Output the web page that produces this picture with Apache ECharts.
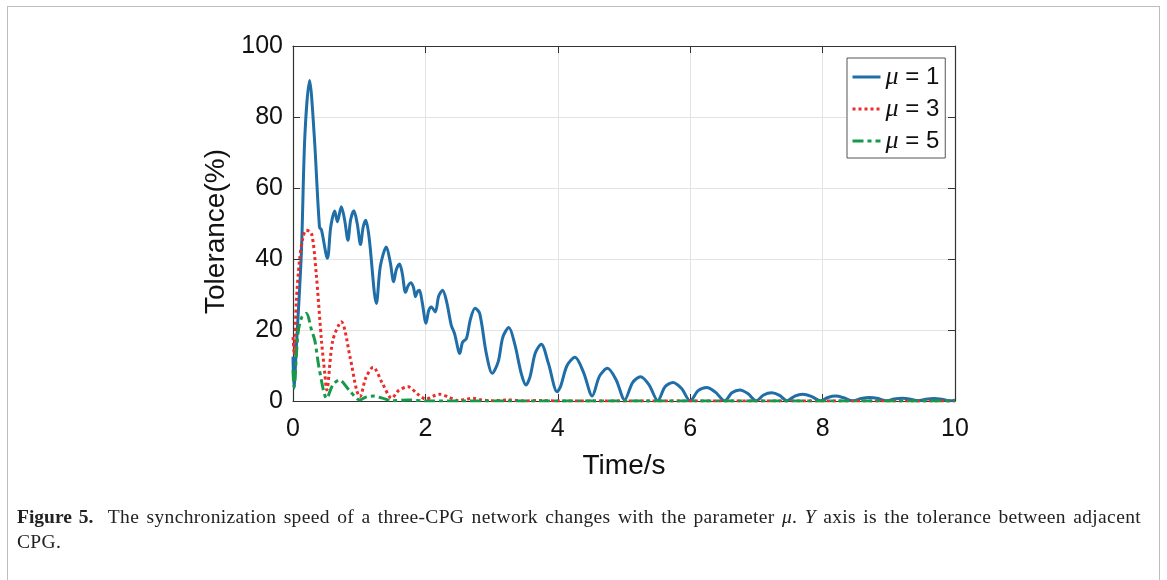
<!DOCTYPE html>
<html>
<head>
<meta charset="utf-8">
<script src="https://cdn.jsdelivr.net/npm/echarts@6/dist/echarts.min.js"></script>
<style>
html,body{margin:0;padding:0;background:#fff;}
#frame{position:absolute;left:7px;top:6px;width:1153px;height:600px;border:1.5px solid #bdbdbd;border-bottom:none;box-sizing:border-box;}
#chart{position:absolute;left:0;top:0;width:1167px;height:580px;}
#caption{position:absolute;left:17px;top:504px;width:1124px;font-family:"Liberation Serif","Times New Roman",serif;font-size:19.5px;line-height:25px;color:#222;letter-spacing:0.35px;}
#caption .l1{display:block;text-align:justify;text-align-last:justify;}
#caption b{font-weight:bold;letter-spacing:0;}
</style>
</head>
<body>
<div id="frame"></div>
<div id="chart"></div>
<div id="caption"><span class="l1"><b>Figure 5.</b>&nbsp; The synchronization speed of a three-CPG network changes with the parameter <i>μ</i>. <i>Y</i> axis is the tolerance between adjacent</span>CPG.</div>
<script>
// ---- data ----
const xTicks = [0, 2, 4, 6, 8, 10];
const yTicks = [0, 20, 40, 60, 80, 100];
const seriesNames = ['μ = 1', 'μ = 3', 'μ = 5'];
const mu1 = [
 [0,12.5],[0.015,3.6],[0.05,15],[0.126,41.6],[0.18,75],[0.25,90.3],[0.32,75],[0.40,49],[0.43,48.2],
 [0.52,40.2],[0.57,49],[0.63,53.5],[0.67,50.5],[0.73,54.7],[0.78,51],[0.83,45.3],[0.87,51],[0.92,53.6],
 [0.97,50],[1.02,44.1],[1.06,49],[1.10,50.9],[1.15,46],[1.26,27.5],[1.32,38],[1.41,43.4],[1.47,39],
 [1.52,33.6],[1.56,37],[1.61,38.6],[1.65,36],[1.70,30.6],[1.74,32.5],[1.78,33.3],[1.82,32],[1.85,29.4],
 [1.88,30.8],[1.91,31.2],[1.95,28],[2.01,21.9],[2.05,25.5],[2.09,26.5],[2.15,25.1],[2.20,29.5],[2.26,31.2],
 [2.32,28],[2.39,21.4],[2.44,19],[2.52,13.4],[2.56,16.5],[2.62,17.6],[2.68,23],[2.75,26.1],[2.82,24.7],
 [2.92,13.4],[3.01,7.8],[3.10,11.1],[3.17,18],[3.26,20.7],[3.35,16],[3.45,7.6],[3.52,4.5],[3.58,6.8],
 [3.66,13.5],[3.75,16.0],[3.86,10.5],[3.99,2.6],[4.04,4.0],[4.14,10],[4.26,12.3],[4.39,8],[4.52,1.4],
 [4.63,7],[4.75,9.2],[4.88,6],[5.01,0.3],[5.13,5.2],[5.25,6.8],[5.38,4.5],[5.51,0.1],[5.62,4],[5.74,5.2],
 [5.87,3.5],[6.0,0],[6.12,2.9],[6.25,3.8],[6.38,2.5],[6.52,0.05],[6.63,2.3],[6.75,3.1],[6.87,2.1],[7.0,0.05],
 [7.11,1.7],[7.23,2.3],[7.35,1.6],[7.46,0.05],[7.58,1.4],[7.70,1.9],[7.83,1.3],[7.97,0.05],[8.08,1.0],
 [8.2,1.4],[8.32,0.9],[8.45,0.05],[8.58,0.7],[8.71,1.0],[8.84,0.7],[8.96,0.05],[9.08,0.55],[9.21,0.75],
 [9.33,0.5],[9.44,0.05],[9.56,0.5],[9.68,0.7],[9.8,0.5],[9.93,0.05],[10,0.2]
];
const mu3 = [
 [0,18],[0.02,13],[0.05,28],[0.1,40],[0.15,46],[0.2,48.1],[0.28,47.2],[0.35,36],[0.43,17],[0.48,7.8],
 [0.51,3.1],[0.6,17],[0.73,22.3],[0.86,12.5],[0.96,3.1],[1.01,1.2],[1.1,6.5],[1.21,9.5],[1.35,5],[1.49,0.8],
 [1.6,3],[1.74,4.0],[1.88,2],[2.01,0.5],[2.12,1.4],[2.22,1.9],[2.36,1],[2.5,0.1],[2.62,0.5],[2.72,0.75],
 [2.85,0.3],[3.0,0.05],[3.25,0.3],[3.5,0.02],[3.75,0.15],[4.0,0.01],[5,0],[10,0]
];
const mu5 = [
 [0,8.7],[0.015,4],[0.075,19],[0.13,23.5],[0.2,24.7],[0.28,20],[0.33,17],[0.40,8.7],[0.51,0.75],[0.6,4.5],
 [0.70,5.9],[0.85,3],[1.01,0.3],[1.1,1.1],[1.21,1.4],[1.35,0.8],[1.49,0.1],[1.74,0.3],[2.0,0],[10,0]
];
// ---- chart ----
const FONT = '"Liberation Sans", Arial, Helvetica, sans-serif';
const axisCol = '#333333';
const chart = echarts.init(document.getElementById('chart'), null, {renderer: 'canvas'});
const gridStyle = {show: true, lineStyle: {color: '#e3e3e3', width: 1}};
const baseX = {type: 'value', min: xTicks[0], max: xTicks[xTicks.length-1], interval: xTicks[1]-xTicks[0]};
const baseY = {type: 'value', min: yTicks[0], max: yTicks[yTicks.length-1], interval: yTicks[1]-yTicks[0]};
chart.setOption({
  animation: false,
  backgroundColor: 'transparent',
  grid: {left: 293, right: 212, top: 46, bottom: 179, containLabel: false},
  xAxis: [
    Object.assign({}, baseX, {
      position: 'bottom',
      name: 'Time/s', nameLocation: 'middle', nameGap: 51,
      nameTextStyle: {fontFamily: FONT, fontSize: 28, color: '#111'},
      axisLine: {show: true, onZero: false, lineStyle: {color: axisCol, width: 1.2}},
      axisTick: {show: true, inside: true, length: 7, lineStyle: {color: axisCol}},
      axisLabel: {fontFamily: FONT, fontSize: 25, color: '#111', margin: 16},
      splitLine: gridStyle
    }),
    Object.assign({}, baseX, {
      position: 'top',
      axisLine: {show: true, onZero: false, lineStyle: {color: axisCol, width: 1.2}},
      axisTick: {show: true, inside: true, length: 7, lineStyle: {color: axisCol}},
      axisLabel: {show: false}, splitLine: {show: false}
    })
  ],
  yAxis: [
    Object.assign({}, baseY, {
      position: 'left',
      name: 'Tolerance(%)', nameLocation: 'middle', nameGap: 60, nameRotate: 90,
      nameTextStyle: {fontFamily: FONT, fontSize: 28, color: '#111', padding: [0, 16, 0, 0]},
      axisLine: {show: true, onZero: false, lineStyle: {color: axisCol, width: 1.2}},
      axisTick: {show: true, inside: true, length: 7, lineStyle: {color: axisCol}},
      axisLabel: {fontFamily: FONT, fontSize: 25, color: '#111', margin: 10},
      splitLine: gridStyle
    }),
    Object.assign({}, baseY, {
      position: 'right',
      axisLine: {show: true, onZero: false, lineStyle: {color: axisCol, width: 1.2}},
      axisTick: {show: true, inside: true, length: 7, lineStyle: {color: axisCol}},
      axisLabel: {show: false}, splitLine: {show: false}
    })
  ],
  legend: {
    orient: 'vertical', left: 847, top: 58,
    backgroundColor: '#fff', borderColor: '#555', borderWidth: 1,
    padding: [6, 6, 4, 4], itemGap: 6, itemWidth: 28, itemHeight: 24,
    itemStyle: {opacity: 0, borderWidth: 0},
    lineStyle: {width: 3},
    data: seriesNames,
    formatter: function (n) { return '{i|μ}{t|' + n.slice(1) + '}'; },
    textStyle: {
      fontFamily: FONT, fontSize: 24, color: '#111',
      rich: {
        i: {fontFamily: '"Liberation Serif", serif', fontStyle: 'italic', fontSize: 26, color: '#111'},
        t: {fontFamily: FONT, fontSize: 24, color: '#111'}
      }
    }
  },
  series: [
    {name: seriesNames[0], type: 'line', data: mu1, showSymbol: false, symbol: 'none', smooth: 0.3,
     lineStyle: {color: '#1f6ea8', width: 3}, itemStyle: {color: '#1f6ea8'}, z: 3},
    {name: seriesNames[1], type: 'line', data: mu3, showSymbol: false, symbol: 'none', smooth: 0.3,
     lineStyle: {color: '#ec2b2b', width: 3, type: [3, 3]}, itemStyle: {color: '#ec2b2b'}, z: 4},
    {name: seriesNames[2], type: 'line', data: mu5, showSymbol: false, symbol: 'none', smooth: 0.3,
     lineStyle: {color: '#17994a', width: 3, type: [11, 4, 4, 4]}, itemStyle: {color: '#17994a'}, z: 5}
  ]
});
</script>
</body>
</html>
